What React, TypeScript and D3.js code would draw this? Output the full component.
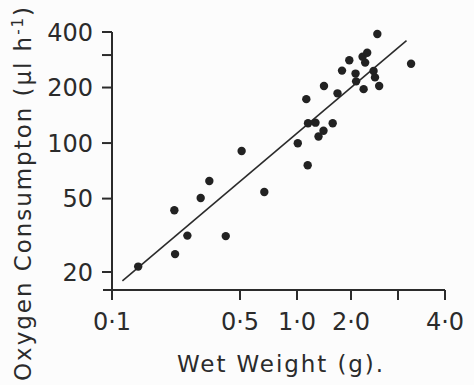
import React from 'react';
import * as d3 from 'd3';

// wet weight (g) and oxygen consumption (µl h-1)
const weight = [
  0.139, 0.221, 0.219, 0.258, 0.305, 0.34, 0.418, 0.51, 0.672, 1.01,
  1.147, 1.127, 1.152, 1.268, 1.318, 1.405, 1.581, 1.414, 1.682, 1.782,
  1.957, 2.08, 2.09, 2.21, 2.3, 2.26, 2.23, 2.43, 2.46, 2.55,
  2.51, 3.25,
];
const oxygen = [
  21.4, 25.0, 43.2, 31.5, 50.4, 62.3, 31.3, 90.5, 54.3, 99.7,
  75.8, 173, 128, 129, 108.5, 116.7, 128, 204, 186, 247,
  281, 238, 216, 294, 309, 273, 196, 246, 227, 204,
  390, 269,
];

// regression line end points
const fitWeight = [0.114, 3.16];
const fitOxygen = [17.9, 359];

const xTicks = [0.1, 0.5, 1, 2, 3, 4];
const xTickLabels = ['0·1', '0·5', '1·0', '2·0', '', '4·0'];
const yTicks = [20, 50, 100, 200, 300, 400];
const yTickLabels = ['20', '50', '100', '200', '', '400'];

const W = 474;
const H = 385;
const font = '"DejaVu Sans", sans-serif';
const ink = '#2b2b2b';

export default function App() {
  // the x axis of the original is not evenly logarithmic past 2.0, so use a piecewise log scale
  const x = d3.scaleLog()
    .domain(xTicks)
    .range([112, 240, 297, 351, 398, 445]);
  const y = d3.scaleLog()
    .domain([20, 400])
    .range([272, 32]);

  const axisY = 290;
  const axisX = x(0.1);

  const fit = d3.line<number>()
    .x((d, i) => x(fitWeight[i]))
    .y((d, i) => y(fitOxygen[i]));

  return (
    <svg width={W} height={H} style={{ position: 'absolute', left: 0, top: 0, background: '#fcfcfc' }}>
      {/* axes */}
      <line x1={axisX - 9} x2={x(4)} y1={axisY} y2={axisY} stroke={ink} strokeWidth={2} />
      <line x1={axisX} x2={axisX} y1={y(400)} y2={axisY + 10} stroke={ink} strokeWidth={2} />

      {yTicks.map((t, i) => (
        <g key={'y' + t}>
          <line x1={axisX - 10} x2={axisX} y1={y(t)} y2={y(t)} stroke={ink} strokeWidth={2} />
          <text x={axisX - 19} y={y(t)} dy="0.36em" textAnchor="end"
            fontFamily={font} fontSize={24} fill={ink}>{yTickLabels[i]}</text>
        </g>
      ))}

      {xTicks.map((t, i) => (
        <g key={'x' + t}>
          <line x1={x(t)} x2={x(t)} y1={axisY} y2={axisY + 10} stroke={ink} strokeWidth={2} />
          <text x={x(t)} y={330} textAnchor="middle"
            fontFamily={font} fontSize={24} fill={ink}>{xTickLabels[i]}</text>
        </g>
      ))}

      {/* regression line */}
      <path d={fit(fitWeight) || ''} fill="none" stroke={ink} strokeWidth={1.6} />

      {/* points */}
      {weight.map((w, i) => (
        <circle key={i} cx={x(w)} cy={y(oxygen[i])} r={4.2} fill="#222" />
      ))}

      {/* axis titles */}
      <text x={280} y={372} textAnchor="middle" fontFamily={font} fontSize={23}
        fill={ink} textLength={206} lengthAdjust="spacing">Wet Weight (g).</text>
      <text transform="translate(31,194) rotate(-90)" textAnchor="middle" fontFamily={font}
        fontSize={23} fill={ink} textLength={374} lengthAdjust="spacing">
        Oxygen Consumpton (μl h<tspan dy="-8" fontSize={15}>-1</tspan><tspan dy="8">)</tspan>
      </text>
    </svg>
  );
}
